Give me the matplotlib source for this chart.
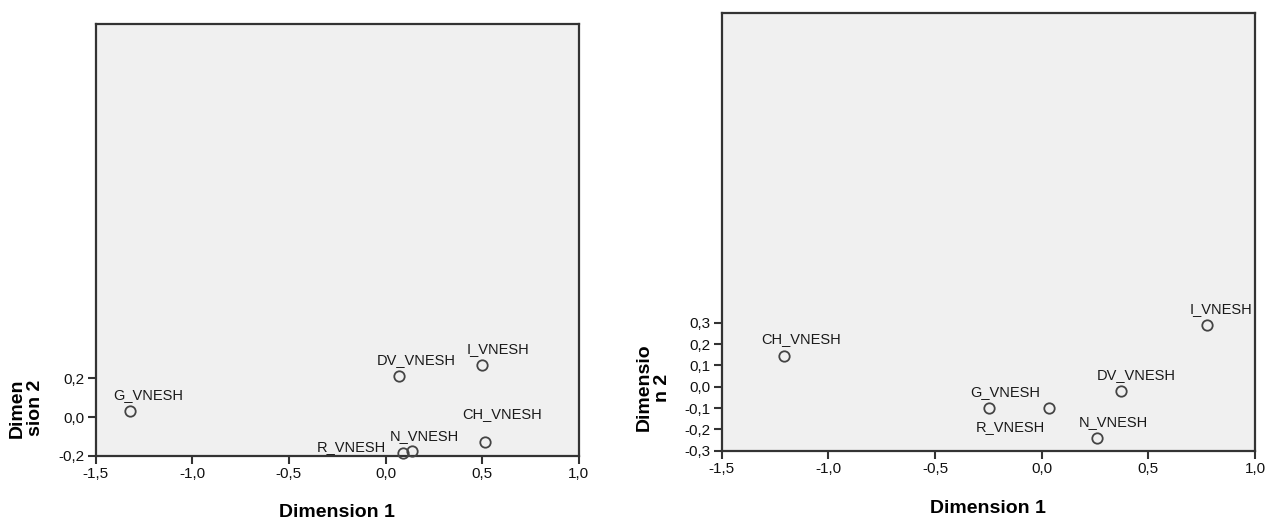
import matplotlib
matplotlib.use("Agg")
import matplotlib.pyplot as plt
from matplotlib.ticker import FuncFormatter, FixedLocator

plt.rcParams['font.family'] = ['Liberation Sans', 'DejaVu Sans']

# ---- data: left panel ----
left_names = ["G_VNESH", "DV_VNESH", "I_VNESH", "CH_VNESH", "N_VNESH", "R_VNESH"]
left_dim1 = [-1.322, 0.071, 0.498, 0.515, 0.136, 0.089]
left_dim2 = [0.029, 0.213, 0.269, -0.131, -0.174, -0.188]
left_xticks = [-1.5, -1.0, -0.5, 0.0, 0.5, 1.0]
left_yticks = [-0.2, 0.0, 0.2]
left_ylabel = "Dimen\nsion 2"

# ---- data: right panel ----
right_names = ["CH_VNESH", "G_VNESH", "R_VNESH", "DV_VNESH", "N_VNESH", "I_VNESH"]
right_dim1 = [-1.207, -0.245, 0.036, 0.372, 0.258, 0.774]
right_dim2 = [0.143, -0.100, -0.100, -0.022, -0.239, 0.291]
right_xticks = [-1.5, -1.0, -0.5, 0.0, 0.5, 1.0]
right_yticks = [-0.3, -0.2, -0.1, 0.0, 0.1, 0.2, 0.3]
right_ylabel = "Dimensio\nn 2"

xlabel = "Dimension 1"

# label offsets in pixels (left edge of text, baseline) -- styling only
left_offsets = [(-17, 12), (-22, 12), (-15, 12), (-23, 24), (-22, 11), (-86, 2)]
right_offsets = [(-23, 13), (-19, 12), (-74, -23), (-24, 12), (-18, 12), (-17, 12)]

W, H = 1278, 521
fig = plt.figure(figsize=(W / 100, H / 100), dpi=100)

FRAME = "#333333"
BG = "#F0F0F0"

def fmt(v, pos=None):
    s = f"{v:.1f}".replace(".", ",")
    if s == "-0,0":
        s = "0,0"
    return s

def panel(rect_px, xlim, ylim, xs, ys, names, offsets, xticks, yticks, ylab, ylab_pos, xlab_y):
    x0, y0, x1, y1 = rect_px  # pixel coords, y from top
    ax = fig.add_axes([x0 / W, 1 - y1 / H, (x1 - x0) / W, (y1 - y0) / H])
    ax.set_facecolor(BG)
    ax.set_xlim(*xlim)
    ax.set_ylim(*ylim)
    for sp in ax.spines.values():
        sp.set_color(FRAME)
        sp.set_linewidth(1.6)
    ax.xaxis.set_major_locator(FixedLocator(xticks))
    ax.yaxis.set_major_locator(FixedLocator(yticks))
    ax.xaxis.set_major_formatter(FuncFormatter(fmt))
    ax.yaxis.set_major_formatter(FuncFormatter(fmt))
    ax.tick_params(direction="out", length=6, width=1.5, color=FRAME,
                   labelsize=11, labelcolor="#111111", pad=2)
    ax.plot(xs, ys, linestyle="none", marker="o", markersize=7.5,
            markerfacecolor="none", markeredgecolor="#444444", markeredgewidth=1.3,
            clip_on=False, zorder=3)
    for x, y, n, (dx, dy) in zip(xs, ys, names, offsets):
        ax.annotate(n, (x, y), xytext=(dx, dy), textcoords="offset pixels",
                    ha="left", va="baseline", fontsize=10.5, color="#1a1a1a",
                    annotation_clip=False)
    ax.text(ylab_pos[0], ylab_pos[1], ylab, transform=ax.transAxes, rotation=90,
            ha="center", va="center", multialignment="center",
            fontsize=14, fontweight="bold", linespacing=1.1)
    ax.text(0.5, xlab_y, xlabel, transform=ax.transAxes, ha="center", va="center",
            fontsize=14, fontweight="bold")
    return ax

panel((95.7, 24.2, 578.7, 455.7), (-1.5, 1.0), (-0.2, 2.031),
      left_dim1, left_dim2, left_names, left_offsets, left_xticks, left_yticks,
      left_ylabel, (-0.143, 0.1105), -0.1305)

panel((721.7, 13.0, 1255.0, 450.7), (-1.5, 1.0), (-0.3, 1.752),
      right_dim1, right_dim2, right_names, right_offsets, right_xticks, right_yticks,
      right_ylabel, (-0.1288, 0.1444), -0.131)

fig.savefig("out.png", dpi=100)
